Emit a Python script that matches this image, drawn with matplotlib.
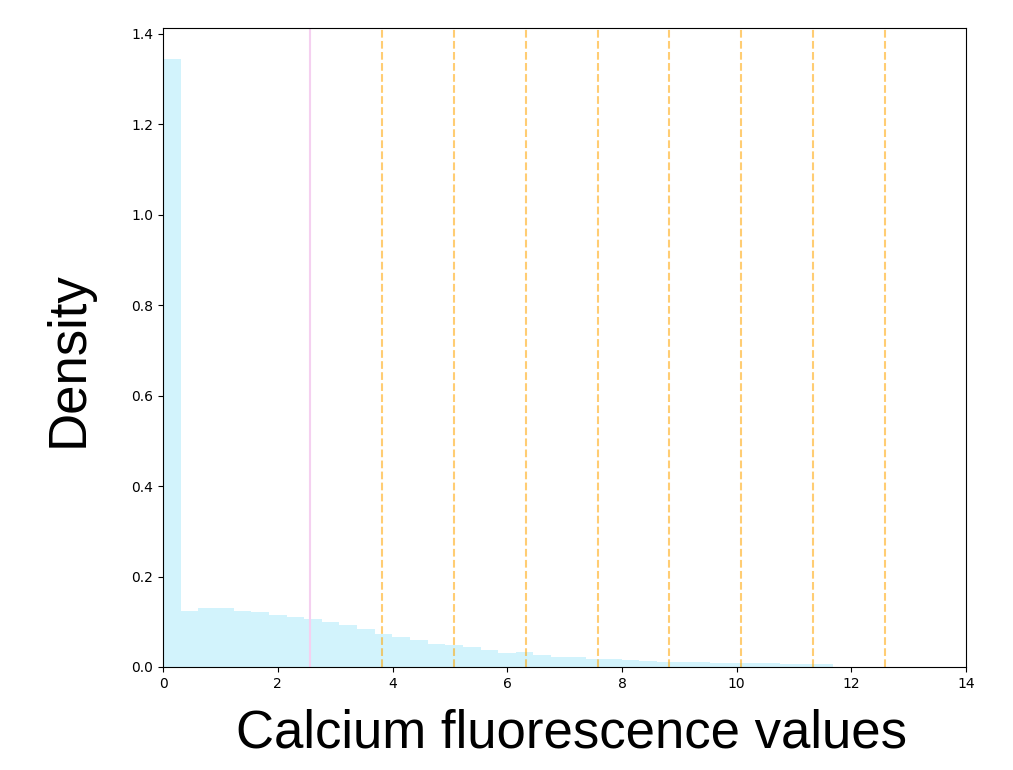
import matplotlib
matplotlib.use("Agg")
import matplotlib.pyplot as plt
import numpy as np

# Histogram of calcium fluorescence values (density), bin width ~0.3075
bin_width = 0.3075
density = [1.345, 0.124, 0.131, 0.131, 0.124, 0.122, 0.115, 0.111, 0.106, 0.100,
           0.0926, 0.083, 0.074, 0.067, 0.060, 0.051, 0.049, 0.044, 0.0375, 0.031,
           0.033, 0.0265, 0.0214, 0.0214, 0.0176, 0.0176, 0.0147, 0.0125, 0.0103, 0.0103,
           0.0103, 0.0081, 0.0081, 0.0081, 0.0081, 0.006, 0.006, 0.006, 0.001, 0.001,
           0.0008, 0.0008, 0.0006, 0.0006, 0.0005, 0.0005]

# Threshold markers
mean_line = 2.563
std_lines = [3.818, 5.073, 6.328, 7.584, 8.822, 10.077, 11.332, 12.587]

fig = plt.figure(figsize=(10.13, 7.7), dpi=100)
ax = fig.add_axes([0.161, 0.1338, 0.7927, 0.8292])

left_edges = np.arange(len(density)) * bin_width
ax.bar(left_edges, density, width=bin_width, align='edge', color='#d2f3fc', linewidth=0)

ax.axvline(mean_line, color='#f5d0f0', linewidth=1.5)
for x in std_lines:
    ax.axvline(x, color='orange', alpha=0.55, linestyle='--', linewidth=1.5)

ax.set_xlim(0, 14)
ax.set_ylim(0, 1.412)
ax.set_xticks(np.arange(0, 15, 2))
ax.set_yticks(np.arange(0, 1.41, 0.2))
ax.tick_params(labelsize=10)

# Big axis labels (Arial-like)
fig.text(83 / 1013, 1 - 359 / 770, 'Density', rotation=90, rotation_mode='anchor',
         ha='center', va='baseline', fontsize=38, family='Liberation Sans')
fig.text(571 / 1013, 1 - 748 / 770, 'Calcium fluorescence values',
         ha='center', va='baseline', fontsize=38, family='Liberation Sans')

fig.savefig('out.png', dpi=100)
